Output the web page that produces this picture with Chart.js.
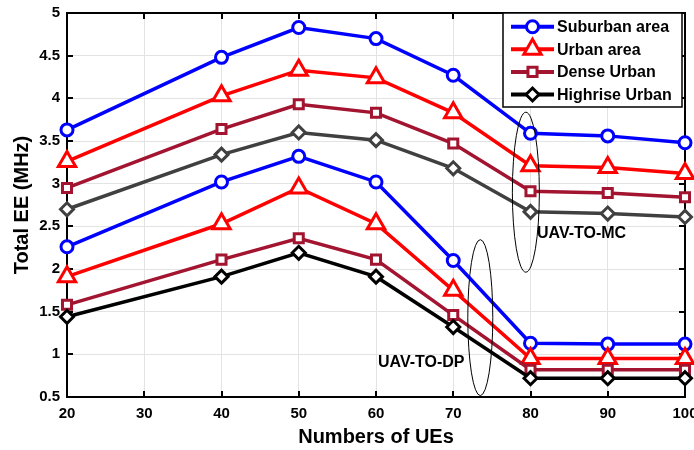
<!DOCTYPE html>
<html>
<head>
<meta charset="utf-8">
<script src="https://cdn.jsdelivr.net/npm/chart.js@4/dist/chart.umd.min.js"></script>
<style>
  html, body { margin: 0; padding: 0; background: #ffffff; }
  #wrap { width: 694px; height: 450px; }
</style>
</head>
<body>
<div id="wrap"><canvas id="ee" width="694" height="450"></canvas></div>
<script>
// Number of UEs on the x axis
const xValues = [20, 40, 50, 60, 70, 80, 90, 100];
const seriesNames = ['Suburban area', 'Urban area', 'Dense Urban', 'Highrise Urban'];

// UAV-to-MC energy efficiency
const mcSuburban = [3.63, 4.48, 4.83, 4.70, 4.27, 3.59, 3.56, 3.48];
const mcUrban    = [3.26, 4.03, 4.33, 4.24, 3.83, 3.21, 3.19, 3.12];
const mcDense    = [2.95, 3.64, 3.93, 3.83, 3.47, 2.91, 2.89, 2.84];
const mcHighrise = [2.70, 3.34, 3.60, 3.51, 3.18, 2.67, 2.65, 2.61];

// UAV-to-DP energy efficiency
const dpSuburban = [2.26, 3.02, 3.32, 3.02, 2.10, 1.13, 1.12, 1.12];
const dpUrban    = [1.91, 2.53, 2.95, 2.53, 1.75, 0.95, 0.95, 0.95];
const dpDense    = [1.58, 2.11, 2.36, 2.11, 1.46, 0.82, 0.82, 0.82];
const dpHighrise = [1.44, 1.91, 2.19, 1.91, 1.32, 0.72, 0.72, 0.72];

const yTicks = [0.5, 1, 1.5, 2, 2.5, 3, 3.5, 4, 4.5, 5];
const xTicks = [20, 30, 40, 50, 60, 70, 80, 90, 100];

const FONT = 'Arial, "Liberation Sans", sans-serif';

const styles = [
  { color: '#0000ff', point: 'circle',   radius: 6 },
  { color: '#ff0000', point: 'triangle', radius: 10 },
  { color: '#a2142f', point: 'rect',     radius: 6.4 },
  { color: '#000000', point: 'rectRot',  radius: 6.5 }
];

function toPoints(arr) { return xValues.map((x, i) => ({ x: x, y: arr[i] })); }

function makeSet(label, values, style, color) {
  return {
    label: label,
    data: toPoints(values),
    borderColor: color,
    backgroundColor: '#ffffff',
    borderWidth: 3.5,
    pointStyle: style.point,
    pointRadius: style.radius,
    pointHoverRadius: style.radius,
    pointBorderWidth: 3,
    pointBorderColor: color,
    pointBackgroundColor: '#ffffff',
    tension: 0,
    fill: false,
    clip: false
  };
}

const datasets = [
  makeSet(seriesNames[0], mcSuburban, styles[0], styles[0].color),
  makeSet(seriesNames[1], mcUrban,    styles[1], styles[1].color),
  makeSet(seriesNames[2], mcDense,    styles[2], styles[2].color),
  makeSet(seriesNames[3], mcHighrise, styles[3], '#404040'),
  makeSet(seriesNames[0], dpSuburban, styles[0], styles[0].color),
  makeSet(seriesNames[1], dpUrban,    styles[1], styles[1].color),
  makeSet(seriesNames[2], dpDense,    styles[2], styles[2].color),
  makeSet(seriesNames[3], dpHighrise, styles[3], styles[3].color)
];
// later series are painted over earlier ones
datasets.forEach((d, i) => { d.order = datasets.length - i; });

// axes box with inward tick marks on all four sides
const boxPlugin = {
  id: 'axesBox',
  beforeDatasetsDraw(chart) {
    const { ctx, chartArea: a, scales } = chart;
    const len = 6;
    ctx.save();
    ctx.strokeStyle = '#000000';
    ctx.lineWidth = 2;
    ctx.beginPath();
    xTicks.forEach(v => {
      const px = Math.round(scales.x.getPixelForValue(v));
      ctx.moveTo(px, a.bottom); ctx.lineTo(px, a.bottom - len);
      ctx.moveTo(px, a.top);    ctx.lineTo(px, a.top + len);
    });
    yTicks.forEach(v => {
      const py = Math.round(scales.y.getPixelForValue(v));
      ctx.moveTo(a.left, py);  ctx.lineTo(a.left + len, py);
      ctx.moveTo(a.right, py); ctx.lineTo(a.right - len, py);
    });
    ctx.stroke();
    ctx.strokeRect(a.left, a.top, a.right - a.left, a.bottom - a.top);
    ctx.restore();
  }
};

// group outlines and their captions
const groupPlugin = {
  id: 'groups',
  afterDatasetsDraw(chart, args, opts) {
    const { ctx, scales } = chart;
    ctx.save();
    ctx.strokeStyle = '#000000';
    ctx.lineWidth = 1;
    opts.rings.forEach(r => {
      const cx = scales.x.getPixelForValue(r.x);
      const cy = scales.y.getPixelForValue(r.y);
      ctx.beginPath();
      ctx.ellipse(cx, cy, r.rx, r.ry, 0, 0, Math.PI * 2);
      ctx.stroke();
    });
    ctx.fillStyle = '#000000';
    ctx.font = 'bold 16px ' + FONT;
    ctx.textBaseline = 'middle';
    ctx.textAlign = 'left';
    opts.captions.forEach(c => {
      ctx.fillText(c.text, scales.x.getPixelForValue(c.x), scales.y.getPixelForValue(c.y));
    });
    ctx.restore();
  }
};

// boxed legend with line and marker samples
const legendPlugin = {
  id: 'boxLegend',
  afterDraw(chart, args, opts) {
    const { ctx, chartArea: a } = chart;
    const sets = chart.data.datasets.slice(4, 8);
    const w = opts.width, h = opts.height;
    const x0 = a.right - opts.right - w, y0 = a.top;
    ctx.save();
    ctx.fillStyle = '#ffffff';
    ctx.fillRect(x0, y0, w, h);
    ctx.strokeStyle = '#000000';
    ctx.lineWidth = 1.5;
    ctx.strokeRect(x0, y0, w, h);
    ctx.font = 'bold 16px ' + FONT;
    ctx.textBaseline = 'middle';
    ctx.textAlign = 'left';
    sets.forEach((d, i) => {
      const y = y0 + opts.firstRow + i * opts.rowGap;
      ctx.strokeStyle = d.borderColor;
      ctx.lineWidth = 4;
      ctx.beginPath();
      ctx.moveTo(x0 + 8, y);
      ctx.lineTo(x0 + 51, y);
      ctx.stroke();
      ctx.fillStyle = '#ffffff';
      ctx.strokeStyle = d.borderColor;
      ctx.lineWidth = 3;
      Chart.helpers.drawPoint(ctx, { pointStyle: d.pointStyle, radius: d.pointRadius, rotation: 0, borderWidth: 3 }, x0 + 29.5, y);
      ctx.fillStyle = '#000000';
      ctx.fillText(d.label, x0 + 54, y + 1);
    });
    ctx.restore();
  }
};

new Chart(document.getElementById('ee'), {
  type: 'line',
  data: { datasets: datasets },
  plugins: [boxPlugin, groupPlugin, legendPlugin],
  options: {
    responsive: false,
    animation: false,
    layout: { autoPadding: false, padding: { top: 13, right: 9, left: 0, bottom: 0 } },
    plugins: {
      legend: { display: false },
      tooltip: { enabled: false },
      boxLegend: { width: 179, height: 94, right: 3, firstRow: 13.7, rowGap: 22.6 },
      groups: {
        rings: [
          { x: 79.4, y: 2.9, rx: 13.5, ry: 80 },
          { x: 73.5, y: 1.43, rx: 12.5, ry: 78 }
        ],
        captions: [
          { text: 'UAV-TO-MC', x: 80.84, y: 2.42 },
          { text: 'UAV-TO-DP', x: 60.26, y: 0.9 }
        ]
      }
    },
    scales: {
      x: {
        type: 'linear',
        min: 20, max: 100,
        afterBuildTicks: s => { s.ticks = xTicks.map(v => ({ value: v })); },
        afterFit: s => { s.height = 53; s.paddingLeft = 0; s.paddingRight = 0; },
        grid: { color: '#e3e3e3', lineWidth: 1, drawTicks: false },
        border: { display: false },
        ticks: { color: '#000000', padding: 8, font: { family: FONT, size: 15, weight: 'bold' }, maxRotation: 0 },
        title: { display: true, text: 'Numbers of UEs', color: '#000000',
                 font: { family: FONT, size: 20, weight: 'bold' }, padding: { top: 0, bottom: 1 } }
      },
      y: {
        type: 'linear',
        min: 0.5, max: 5,
        afterBuildTicks: s => { s.ticks = yTicks.map(v => ({ value: v })); },
        afterFit: s => { s.width = 67; s.paddingTop = 0; s.paddingBottom = 0; },
        grid: { color: '#e3e3e3', lineWidth: 1, drawTicks: false },
        border: { display: false },
        ticks: { color: '#000000', padding: 7, font: { family: FONT, size: 15, weight: 'bold' },
                 callback: v => String(v) },
        title: { display: true, text: 'Total EE (MHz)', color: '#000000',
                 font: { family: FONT, size: 20, weight: 'bold' }, padding: { top: 10, bottom: 0 } }
      }
    }
  }
});
</script>
</body>
</html>
